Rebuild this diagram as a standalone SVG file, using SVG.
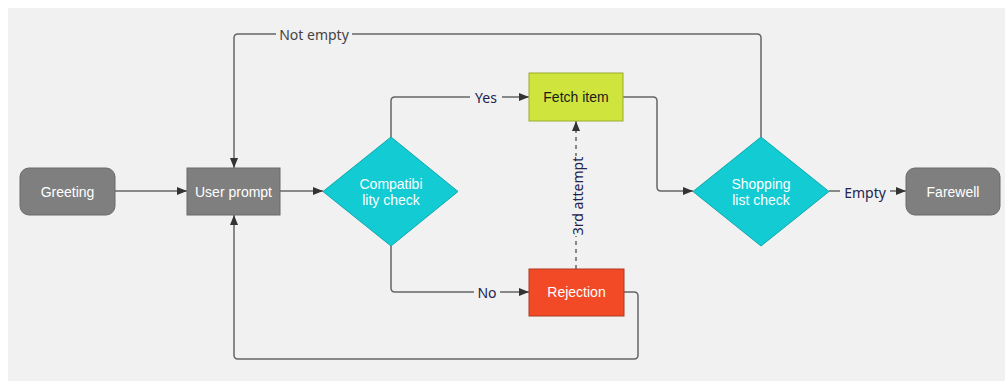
<svg xmlns="http://www.w3.org/2000/svg" width="1005" height="381" viewBox="0 0 1005 381">
  <defs>
    <marker id="arrow" viewBox="0 0 10 10" refX="10" refY="5" markerWidth="10" markerHeight="10" markerUnits="userSpaceOnUse" orient="auto">
      <path d="M0,1 L10,5 L0,9 Z" fill="#333"/>
    </marker>
    <style>
      .edge { fill: none; stroke: #666; stroke-width: 1.5; stroke-linejoin: round; }
      .dash { stroke-dasharray: 4 4; }
      .node-text { font-family: "Liberation Sans", Arial, sans-serif; font-size: 14px; text-anchor: middle; dominant-baseline: central; }
      .light { fill: #ffffff; }
      .dark { fill: #1a1a1a; }
      .edge-label { font-family: "Noto Sans", "Open Sans", sans-serif; font-size: 14px; fill: #23234f; text-anchor: middle; dominant-baseline: central; }
      .grey-label { fill: #444; }
      .lbl-bg { fill: #f1f1f1; }
      .node-grey { fill: #7f7f7f; stroke: #6a6a6a; stroke-width: 1; }
      .node-cyan { fill: #12cbd3; stroke: #0fa8ae; stroke-width: 1; }
    </style>
  </defs>

  <!-- canvas -->
  <rect x="0" y="0" width="1005" height="381" fill="#ffffff"/>
  <rect x="8" y="8" width="997" height="373" fill="#f1f1f1"/>

  <!-- connectors -->
  <g id="connectors">
    <path class="edge" d="M115,191 H187" marker-end="url(#arrow)"/>
    <path class="edge" d="M280,191 H323" marker-end="url(#arrow)"/>
    <path class="edge" d="M391,137 V101 Q391,97 395,97 H529" marker-end="url(#arrow)"/>
    <path class="edge" d="M391,246 V288 Q391,292 395,292 H529" marker-end="url(#arrow)"/>
    <path class="edge" d="M623,97 H653 Q657,97 657,101 V187 Q657,191 661,191 H693" marker-end="url(#arrow)"/>
    <path class="edge" d="M761,137 V38 Q761,34 757,34 H238 Q234,34 234,38 V168" marker-end="url(#arrow)"/>
    <path class="edge" d="M624,292 H634 Q638,292 638,296 V355 Q638,359 634,359 H238 Q234,359 234,355 V215" marker-end="url(#arrow)"/>
    <path class="edge" d="M829,191 H906" marker-end="url(#arrow)"/>
    <path class="edge dash" d="M576,269 V121" marker-end="url(#arrow)"/>

    <!-- labels -->
    <rect class="lbl-bg" x="276" y="24" width="76" height="20"/>
    <text class="edge-label grey-label" x="314" y="34">Not empty</text>
    <rect class="lbl-bg" x="470" y="87" width="32" height="20"/>
    <text class="edge-label" x="486" y="97">Yes</text>
    <rect class="lbl-bg" x="474" y="282" width="26" height="20"/>
    <text class="edge-label" x="487" y="292">No</text>
    <rect class="lbl-bg" x="840" y="181" width="50" height="20"/>
    <text class="edge-label" x="865" y="192">Empty</text>
    <rect class="lbl-bg" x="566" y="156" width="20" height="80"/>
    <text class="edge-label" x="0" y="0" transform="translate(577,196) rotate(-90)">3rd attempt</text>
  </g>

  <g id="greeting">
    <rect class="node-grey" x="20" y="168" width="95" height="47" rx="9"/>
    <text class="node-text light" x="67.5" y="191.5">Greeting</text>
  </g>

  <g id="user-prompt">
    <rect class="node-grey" x="187" y="168" width="93" height="47"/>
    <text class="node-text light" x="233.5" y="191.5">User prompt</text>
  </g>

  <g id="compatibility-check">
    <polygon class="node-cyan" points="391,137 458,191.5 391,246 323,191.5"/>
    <text class="node-text light" x="391" y="184">Compatibi</text>
    <text class="node-text light" x="391" y="200">lity check</text>
  </g>

  <g id="fetch-item">
    <rect x="529" y="73" width="94" height="48" fill="#cfe53e" stroke="#9aab2e" stroke-width="1"/>
    <text class="node-text dark" x="576" y="97">Fetch item</text>
  </g>

  <g id="rejection">
    <rect x="529" y="269" width="95" height="47" fill="#f24a26" stroke="#b0391f" stroke-width="1"/>
    <text class="node-text light" x="576.5" y="292">Rejection</text>
  </g>

  <g id="shopping-list-check">
    <polygon class="node-cyan" points="761,137 829,191.5 761,246 693,191.5"/>
    <text class="node-text light" x="761" y="184">Shopping</text>
    <text class="node-text light" x="761" y="200">list check</text>
  </g>

  <g id="farewell">
    <rect class="node-grey" x="906" y="168" width="94" height="47" rx="9"/>
    <text class="node-text light" x="953" y="191.5">Farewell</text>
  </g>
</svg>
